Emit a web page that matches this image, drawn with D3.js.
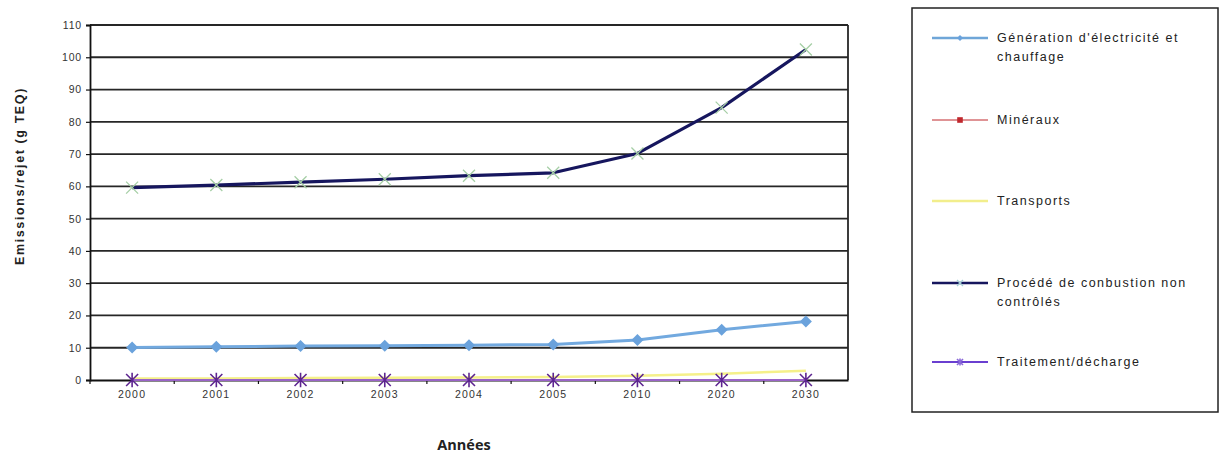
<!DOCTYPE html>
<html><head><meta charset="utf-8">
<script src="https://cdn.jsdelivr.net/npm/d3@7"></script>
<style>
html,body{margin:0;padding:0;background:#fff;}
svg{display:block;font-family:"Liberation Sans",Arial,sans-serif;}
</style></head>
<body><svg id="chart" width="1221" height="456"></svg>
<script>
const categories = ["2000","2001","2002","2003","2004","2005","2010","2020","2030"];
const yTicks = [0,10,20,30,40,50,60,70,80,90,100,110];
const seriesNames = ["Génération d'électricité et chauffage","Minéraux","Transports","Procédé de conbustion non contrôlés","Traitement/décharge"];
const generation = [10.1, 10.3, 10.5, 10.6, 10.8, 11.0, 12.4, 15.6, 18.1];
const mineraux   = [0.1, 0.1, 0.1, 0.1, 0.1, 0.1, 0.1, 0.1, 0.1];
const transports = [0.5, 0.5, 0.6, 0.7, 0.8, 0.9, 1.3, 1.9, 2.9];
const combustion = [59.6, 60.4, 61.3, 62.2, 63.3, 64.2, 70.2, 84.4, 102.4];
const traitement = [0, 0, 0, 0, 0, 0, 0, 0, 0];

const svg = d3.select("#chart");
const L = 90, R = 848, T = 25, B = 380;
const x = d3.scaleBand().domain(categories).range([L, R]);
const y = d3.scaleLinear().domain([0, 110]).range([B, T]);

// gridlines
svg.append("g").selectAll("line").data(yTicks.filter(d => d > 0)).join("line")
  .attr("x1", L).attr("x2", R).attr("y1", d => y(d)).attr("y2", d => y(d))
  .attr("stroke", "#262626").attr("stroke-width", 1.8);
// right border
svg.append("line").attr("x1", R).attr("x2", R).attr("y1", T).attr("y2", B)
  .attr("stroke", "#262626").attr("stroke-width", 1.8);

// y axis
const yAxis = svg.append("g").attr("transform", `translate(${L},0)`)
  .call(d3.axisLeft(y).tickValues(yTicks).tickSize(4).tickPadding(4));
yAxis.select(".domain").attr("stroke", "#111").attr("stroke-width", 1.8);
yAxis.selectAll(".tick line").attr("stroke", "#111").attr("stroke-width", 1.2);
yAxis.selectAll("text").attr("font-size", 10.5).attr("fill", "#333").attr("letter-spacing", 0.8)
  .attr("font-family", "'Liberation Sans',Arial,sans-serif");

// x axis
const xAxis = svg.append("g").attr("transform", `translate(0,${B})`)
  .call(d3.axisBottom(x).tickSize(0).tickPadding(11));
xAxis.select(".domain").attr("stroke", "#111").attr("stroke-width", 1.8);
xAxis.selectAll("text").attr("font-size", 10.5).attr("fill", "#333").attr("letter-spacing", 1.2)
  .attr("font-family", "'Liberation Sans',Arial,sans-serif");
// category boundary ticks
svg.append("g").selectAll("line").data(categories.slice(1)).join("line")
  .attr("x1", d => x(d)).attr("x2", d => x(d)).attr("y1", B).attr("y2", B + 4)
  .attr("stroke", "#111").attr("stroke-width", 1.2);
svg.append("line").attr("x1", L).attr("x2", L).attr("y1", B).attr("y2", B + 4)
  .attr("stroke", "#111").attr("stroke-width", 1.2);

const cx = d => x(d) + x.bandwidth() / 2;
const line = d3.line().x(d => cx(d[0])).y(d => y(d[1]));
const pairs = arr => categories.map((c, i) => [c, arr[i]]);

const styles = [
  {data: transports, color: "#f5f08a", width: 2.5, marker: "none"},
  {data: mineraux, color: "#c0282d", width: 1.5, marker: "square", mcolor: "#c0282d"},
  {data: combustion, color: "#16165e", width: 3.2, marker: "x", mcolor: "#a6cfa6"},
  {data: generation, color: "#72a9df", width: 3, marker: "diamond", mcolor: "#6aa2dc"},
  {data: traitement, color: "#9a63c8", width: 2, marker: "star", mcolor: "#5d2590"}
];

function drawMarker(g, type, color, px, py, s) {
  if (type === "diamond") {
    g.append("path").attr("d", `M${px},${py - s}L${px + s},${py}L${px},${py + s}L${px - s},${py}Z`).attr("fill", color);
  } else if (type === "square") {
    g.append("rect").attr("x", px - s * 0.7).attr("y", py - s * 0.7).attr("width", s * 1.4).attr("height", s * 1.4).attr("fill", color);
  } else if (type === "x") {
    g.append("path").attr("d", `M${px - s},${py - s}L${px + s},${py + s}M${px - s},${py + s}L${px + s},${py - s}`)
      .attr("stroke", color).attr("stroke-width", 1.3).attr("fill", "none");
  } else if (type === "star") {
    g.append("path").attr("d", `M${px - s},${py - s}L${px + s},${py + s}M${px - s},${py + s}L${px + s},${py - s}M${px},${py - s * 1.2}L${px},${py + s * 1.2}`)
      .attr("stroke", color).attr("stroke-width", 1.6).attr("fill", "none");
  }
}

styles.forEach(st => {
  const p = pairs(st.data);
  svg.append("path").datum(p).attr("d", line).attr("fill", "none")
    .attr("stroke", st.color).attr("stroke-width", st.width).attr("stroke-linejoin", "round");
  if (st.marker === "square") return; // hidden beneath other series at zero
  const g = svg.append("g");
  p.forEach(d => {
    if (st.marker !== "none") drawMarker(g, st.marker, st.mcolor, cx(d[0]), y(d[1]), 6);
  });
});

// axis titles
svg.append("text").attr("transform", `translate(24,176) rotate(-90)`)
  .attr("text-anchor", "middle").attr("font-size", 12.5).attr("font-weight", "bold").attr("fill", "#222")
  .attr("letter-spacing", 1.6)
  .text("Emissions/rejet (g TEQ)");
svg.append("text").attr("x", 464).attr("y", 450).attr("text-anchor", "middle")
  .attr("font-size", 14.5).attr("font-weight", "bold").attr("fill", "#222")
  .attr("font-family", "'Open Sans',sans-serif").text("Années");

// legend
const lg = svg.append("g");
lg.append("rect").attr("x", 912).attr("y", 8).attr("width", 306).attr("height", 404)
  .attr("fill", "#fff").attr("stroke", "#222").attr("stroke-width", 1.5);
const legendItems = [
  {name: seriesNames[0], lines: ["Génération d'électricité et", "chauffage"], y: 38, color: "#6fa6d8", marker: "diamond", mcolor: "#6aa2dc", w: 2.5},
  {name: seriesNames[1], lines: ["Minéraux"], y: 120, color: "#c0282d", marker: "square", mcolor: "#c0282d", w: 1},
  {name: seriesNames[2], lines: ["Transports"], y: 201, color: "#f2ee8c", marker: "none", w: 2.5},
  {name: seriesNames[3], lines: ["Procédé de conbustion non", "contrôlés"], y: 283, color: "#16165e", marker: "x", mcolor: "#a6cfd6", w: 2.5},
  {name: seriesNames[4], lines: ["Traitement/décharge"], y: 362, color: "#6a3fd0", marker: "star", mcolor: "#8b6ad8", w: 2}
];
legendItems.forEach(it => {
  lg.append("line").attr("x1", 932).attr("x2", 988).attr("y1", it.y).attr("y2", it.y)
    .attr("stroke", it.color).attr("stroke-width", it.w);
  if (it.marker !== "none") drawMarker(lg, it.marker, it.mcolor, 960, it.y, it.marker === "square" ? 4 : 3);
  it.lines.forEach((t, i) => {
    lg.append("text").attr("x", 997).attr("y", it.y + 4 + i * 19).attr("font-size", 12.5)
      .attr("letter-spacing", 1.5).attr("fill", "#222").text(t);
  });
});
</script></body></html>
